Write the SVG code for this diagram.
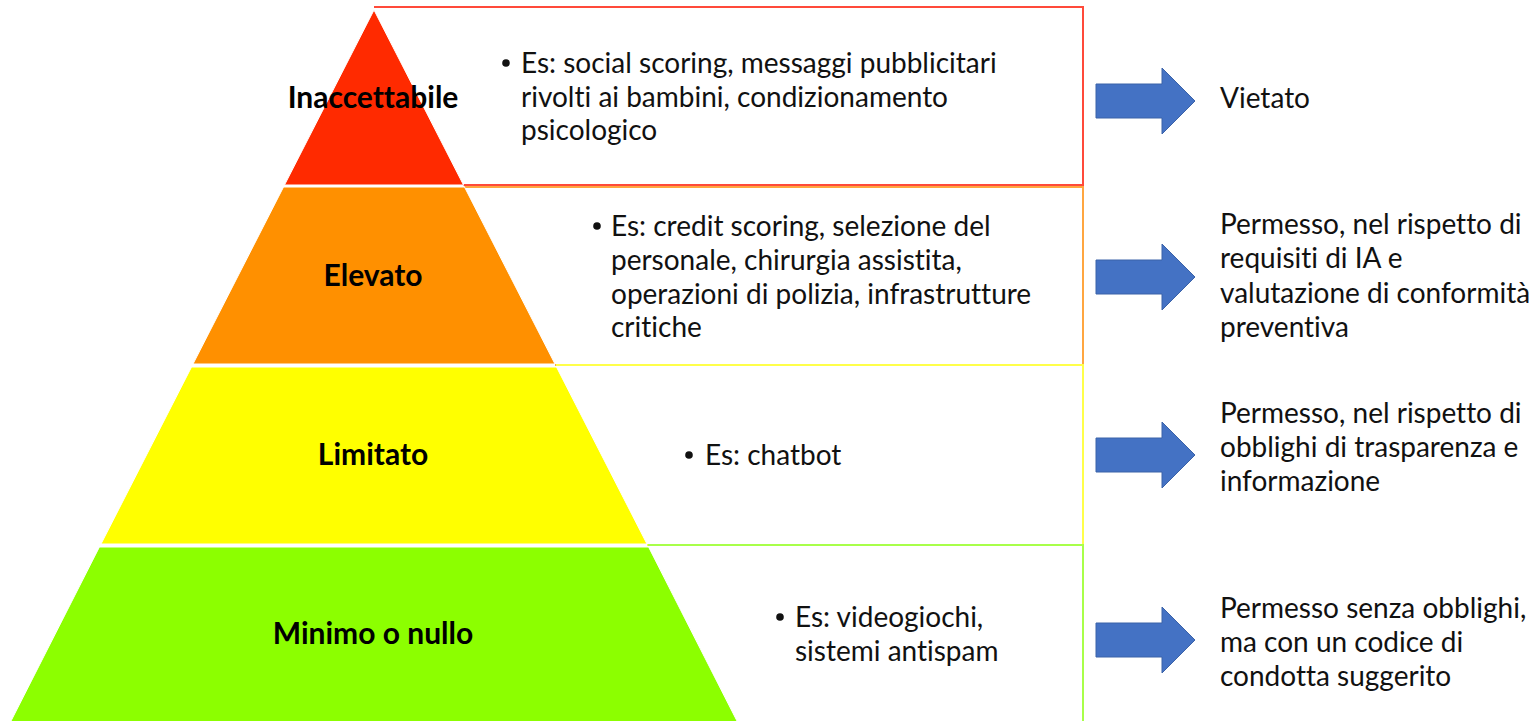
<svg xmlns="http://www.w3.org/2000/svg" width="1536" height="721" viewBox="0 0 1536 721">
<style>
.box{fill:none;stroke-width:2}
.tier{stroke:#fff;stroke-width:1}
.lbl{font-family:Lato,"Liberation Sans",sans-serif;font-weight:bold;font-size:30px;fill:#000;text-anchor:middle;font-variant-ligatures:none}
.txt{font-family:Lato,"Liberation Sans",sans-serif;font-size:28px;fill:#111;font-variant-ligatures:none}
.arrow{fill:#4472c4;stroke:#3a62a8;stroke-width:1}
</style>
<defs>
<path id="arr" d="M0,-17 H66 V-33 L99,0 L66,33 V17 H0 Z"/>
<circle id="dot" r="3.8" fill="#111"/>
</defs>
<rect width="1536" height="721" fill="#fff"/>
<g id="row1">
<path class="box" d="M463.5,185 H1083 V7 H374" stroke="#ff4a3a"/>
</g>
<g id="row2">
<path class="box" d="M464.5,187 H1083 V365 H555" stroke="#ffa640"/>
</g>
<g id="row3">
<path class="box" d="M556,365 H1083 V545 H647" stroke="#ffff4a"/>
</g>
<g id="row4">
<path class="box" d="M648,545 H1083 V722" stroke="#a8ff4a"/>
</g>
<g id="tier-inaccettabile">
<polygon class="tier" points="374,10 463.5,185 284.5,185" fill="#ff2a00"/>
<text class="lbl" x="373" y="108">Inaccettabile</text>
</g>
<g id="tier-elevato">
<polygon class="tier" points="283.5,187 464.5,187 555,364 193,364" fill="#ff9000"/>
<text class="lbl" x="373" y="286">Elevato</text>
</g>
<g id="tier-limitato">
<polygon class="tier" points="191.5,367 556.5,367 647,544 101,544" fill="#ffff00"/>
<text class="lbl" x="373" y="465">Limitato</text>
</g>
<g id="tier-minimo">
<polygon class="tier" points="99.4,547 648.6,547 737.5,722 10.5,722" fill="#8cff00"/>
<text class="lbl" x="373" y="644">Minimo o nullo</text>
</g>
<g id="examples">
<use href="#dot" x="506" y="63"/>
<text class="txt" x="521" y="73">Es: social scoring, messaggi pubblicitari</text>
<text class="txt" x="521" y="107">rivolti ai bambini, condizionamento</text>
<text class="txt" x="521" y="140">psicologico</text>
<use href="#dot" x="597" y="226"/>
<text class="txt" x="611" y="236">Es: credit scoring, selezione del</text>
<text class="txt" x="611" y="270">personale, chirurgia assistita,</text>
<text class="txt" x="611" y="304">operazioni di polizia, infrastrutture</text>
<text class="txt" x="611" y="337">critiche</text>
<use href="#dot" x="689" y="455"/>
<text class="txt" x="705" y="465">Es: chatbot</text>
<use href="#dot" x="780" y="617"/>
<text class="txt" x="795" y="627">Es: videogiochi,</text>
<text class="txt" x="795" y="661">sistemi antispam</text>
</g>
<g id="connectors">
<use href="#arr" class="arrow" transform="translate(1096,101)"/>
<use href="#arr" class="arrow" transform="translate(1096,277)"/>
<use href="#arr" class="arrow" transform="translate(1096,455)"/>
<use href="#arr" class="arrow" transform="translate(1096,640)"/>
</g>
<g id="outcomes">
<text class="txt" x="1220" y="108">Vietato</text>
<text class="txt" x="1220" y="234">Permesso, nel rispetto di</text>
<text class="txt" x="1220" y="268">requisiti di IA e</text>
<text class="txt" x="1220" y="303">valutazione di conformità</text>
<text class="txt" x="1220" y="337">preventiva</text>
<text class="txt" x="1220" y="423">Permesso, nel rispetto di</text>
<text class="txt" x="1220" y="457">obblighi di trasparenza e</text>
<text class="txt" x="1220" y="491">informazione</text>
<text class="txt" x="1220" y="618">Permesso senza obblighi,</text>
<text class="txt" x="1220" y="652">ma con un codice di</text>
<text class="txt" x="1220" y="686">condotta suggerito</text>
</g>
</svg>
